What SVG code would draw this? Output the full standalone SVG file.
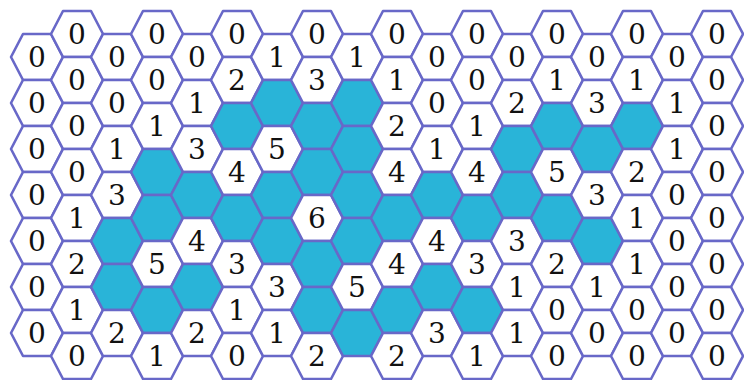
<svg xmlns="http://www.w3.org/2000/svg" xmlns:xlink="http://www.w3.org/1999/xlink" width="744" height="380" viewBox="0 0 744 380">
<style>
.w{fill:#ffffff;stroke:#6868c8;stroke-width:2.6;stroke-linejoin:round}
.m{fill:#29b4d8;stroke:#6868c8;stroke-width:2.6;stroke-linejoin:round}
text{font-family:"DejaVu Serif","Liberation Serif",serif;font-size:28px;text-anchor:middle;fill:#111}
</style>
<defs><polygon id="hx" points="-26,0 -14,-23 14,-23 26,0 14,23 -14,23"/></defs>
<rect width="744" height="380" fill="#ffffff"/>
<g id="connectors"/>
<g id="c0r0"><use href="#hx" class="w" x="37" y="57"/><text x="37" y="67">0</text></g>
<g id="c0r1"><use href="#hx" class="w" x="37" y="103"/><text x="37" y="113">0</text></g>
<g id="c0r2"><use href="#hx" class="w" x="37" y="149"/><text x="37" y="159">0</text></g>
<g id="c0r3"><use href="#hx" class="w" x="37" y="195"/><text x="37" y="205">0</text></g>
<g id="c0r4"><use href="#hx" class="w" x="37" y="241"/><text x="37" y="251">0</text></g>
<g id="c0r5"><use href="#hx" class="w" x="37" y="287"/><text x="37" y="297">0</text></g>
<g id="c0r6"><use href="#hx" class="w" x="37" y="333"/><text x="37" y="343">0</text></g>
<g id="c1r0"><use href="#hx" class="w" x="77" y="34"/><text x="77" y="44">0</text></g>
<g id="c1r1"><use href="#hx" class="w" x="77" y="80"/><text x="77" y="90">0</text></g>
<g id="c1r2"><use href="#hx" class="w" x="77" y="126"/><text x="77" y="136">0</text></g>
<g id="c1r3"><use href="#hx" class="w" x="77" y="172"/><text x="77" y="182">0</text></g>
<g id="c1r4"><use href="#hx" class="w" x="77" y="218"/><text x="77" y="228">1</text></g>
<g id="c1r5"><use href="#hx" class="w" x="77" y="264"/><text x="77" y="274">2</text></g>
<g id="c1r6"><use href="#hx" class="w" x="77" y="310"/><text x="77" y="320">1</text></g>
<g id="c1r7"><use href="#hx" class="w" x="77" y="356"/><text x="77" y="366">0</text></g>
<g id="c2r0"><use href="#hx" class="w" x="117" y="57"/><text x="117" y="67">0</text></g>
<g id="c2r1"><use href="#hx" class="w" x="117" y="103"/><text x="117" y="113">0</text></g>
<g id="c2r2"><use href="#hx" class="w" x="117" y="149"/><text x="117" y="159">1</text></g>
<g id="c2r3"><use href="#hx" class="w" x="117" y="195"/><text x="117" y="205">3</text></g>
<g id="c2r4"><use href="#hx" class="m" x="117" y="241"/></g>
<g id="c2r5"><use href="#hx" class="m" x="117" y="287"/></g>
<g id="c2r6"><use href="#hx" class="w" x="117" y="333"/><text x="117" y="343">2</text></g>
<g id="c3r0"><use href="#hx" class="w" x="157" y="34"/><text x="157" y="44">0</text></g>
<g id="c3r1"><use href="#hx" class="w" x="157" y="80"/><text x="157" y="90">0</text></g>
<g id="c3r2"><use href="#hx" class="w" x="157" y="126"/><text x="157" y="136">1</text></g>
<g id="c3r3"><use href="#hx" class="m" x="157" y="172"/></g>
<g id="c3r4"><use href="#hx" class="m" x="157" y="218"/></g>
<g id="c3r5"><use href="#hx" class="w" x="157" y="264"/><text x="157" y="274">5</text></g>
<g id="c3r6"><use href="#hx" class="m" x="157" y="310"/></g>
<g id="c3r7"><use href="#hx" class="w" x="157" y="356"/><text x="157" y="366">1</text></g>
<g id="c4r0"><use href="#hx" class="w" x="197" y="57"/><text x="197" y="67">0</text></g>
<g id="c4r1"><use href="#hx" class="w" x="197" y="103"/><text x="197" y="113">1</text></g>
<g id="c4r2"><use href="#hx" class="w" x="197" y="149"/><text x="197" y="159">3</text></g>
<g id="c4r3"><use href="#hx" class="m" x="197" y="195"/></g>
<g id="c4r4"><use href="#hx" class="w" x="197" y="241"/><text x="197" y="251">4</text></g>
<g id="c4r5"><use href="#hx" class="m" x="197" y="287"/></g>
<g id="c4r6"><use href="#hx" class="w" x="197" y="333"/><text x="197" y="343">2</text></g>
<g id="c5r0"><use href="#hx" class="w" x="237" y="34"/><text x="237" y="44">0</text></g>
<g id="c5r1"><use href="#hx" class="w" x="237" y="80"/><text x="237" y="90">2</text></g>
<g id="c5r2"><use href="#hx" class="m" x="237" y="126"/></g>
<g id="c5r3"><use href="#hx" class="w" x="237" y="172"/><text x="237" y="182">4</text></g>
<g id="c5r4"><use href="#hx" class="m" x="237" y="218"/></g>
<g id="c5r5"><use href="#hx" class="w" x="237" y="264"/><text x="237" y="274">3</text></g>
<g id="c5r6"><use href="#hx" class="w" x="237" y="310"/><text x="237" y="320">1</text></g>
<g id="c5r7"><use href="#hx" class="w" x="237" y="356"/><text x="237" y="366">0</text></g>
<g id="c6r0"><use href="#hx" class="w" x="277" y="57"/><text x="277" y="67">1</text></g>
<g id="c6r1"><use href="#hx" class="m" x="277" y="103"/></g>
<g id="c6r2"><use href="#hx" class="w" x="277" y="149"/><text x="277" y="159">5</text></g>
<g id="c6r3"><use href="#hx" class="m" x="277" y="195"/></g>
<g id="c6r4"><use href="#hx" class="m" x="277" y="241"/></g>
<g id="c6r5"><use href="#hx" class="w" x="277" y="287"/><text x="277" y="297">3</text></g>
<g id="c6r6"><use href="#hx" class="w" x="277" y="333"/><text x="277" y="343">1</text></g>
<g id="c7r0"><use href="#hx" class="w" x="317" y="34"/><text x="317" y="44">0</text></g>
<g id="c7r1"><use href="#hx" class="w" x="317" y="80"/><text x="317" y="90">3</text></g>
<g id="c7r2"><use href="#hx" class="m" x="317" y="126"/></g>
<g id="c7r3"><use href="#hx" class="m" x="317" y="172"/></g>
<g id="c7r4"><use href="#hx" class="w" x="317" y="218"/><text x="317" y="228">6</text></g>
<g id="c7r5"><use href="#hx" class="m" x="317" y="264"/></g>
<g id="c7r6"><use href="#hx" class="m" x="317" y="310"/></g>
<g id="c7r7"><use href="#hx" class="w" x="317" y="356"/><text x="317" y="366">2</text></g>
<g id="c8r0"><use href="#hx" class="w" x="357" y="57"/><text x="357" y="67">1</text></g>
<g id="c8r1"><use href="#hx" class="m" x="357" y="103"/></g>
<g id="c8r2"><use href="#hx" class="m" x="357" y="149"/></g>
<g id="c8r3"><use href="#hx" class="m" x="357" y="195"/></g>
<g id="c8r4"><use href="#hx" class="m" x="357" y="241"/></g>
<g id="c8r5"><use href="#hx" class="w" x="357" y="287"/><text x="357" y="297">5</text></g>
<g id="c8r6"><use href="#hx" class="m" x="357" y="333"/></g>
<g id="c9r0"><use href="#hx" class="w" x="397" y="34"/><text x="397" y="44">0</text></g>
<g id="c9r1"><use href="#hx" class="w" x="397" y="80"/><text x="397" y="90">1</text></g>
<g id="c9r2"><use href="#hx" class="w" x="397" y="126"/><text x="397" y="136">2</text></g>
<g id="c9r3"><use href="#hx" class="w" x="397" y="172"/><text x="397" y="182">4</text></g>
<g id="c9r4"><use href="#hx" class="m" x="397" y="218"/></g>
<g id="c9r5"><use href="#hx" class="w" x="397" y="264"/><text x="397" y="274">4</text></g>
<g id="c9r6"><use href="#hx" class="m" x="397" y="310"/></g>
<g id="c9r7"><use href="#hx" class="w" x="397" y="356"/><text x="397" y="366">2</text></g>
<g id="c10r0"><use href="#hx" class="w" x="437" y="57"/><text x="437" y="67">0</text></g>
<g id="c10r1"><use href="#hx" class="w" x="437" y="103"/><text x="437" y="113">0</text></g>
<g id="c10r2"><use href="#hx" class="w" x="437" y="149"/><text x="437" y="159">1</text></g>
<g id="c10r3"><use href="#hx" class="m" x="437" y="195"/></g>
<g id="c10r4"><use href="#hx" class="w" x="437" y="241"/><text x="437" y="251">4</text></g>
<g id="c10r5"><use href="#hx" class="m" x="437" y="287"/></g>
<g id="c10r6"><use href="#hx" class="w" x="437" y="333"/><text x="437" y="343">3</text></g>
<g id="c11r0"><use href="#hx" class="w" x="477" y="34"/><text x="477" y="44">0</text></g>
<g id="c11r1"><use href="#hx" class="w" x="477" y="80"/><text x="477" y="90">0</text></g>
<g id="c11r2"><use href="#hx" class="w" x="477" y="126"/><text x="477" y="136">1</text></g>
<g id="c11r3"><use href="#hx" class="w" x="477" y="172"/><text x="477" y="182">4</text></g>
<g id="c11r4"><use href="#hx" class="m" x="477" y="218"/></g>
<g id="c11r5"><use href="#hx" class="w" x="477" y="264"/><text x="477" y="274">3</text></g>
<g id="c11r6"><use href="#hx" class="m" x="477" y="310"/></g>
<g id="c11r7"><use href="#hx" class="w" x="477" y="356"/><text x="477" y="366">1</text></g>
<g id="c12r0"><use href="#hx" class="w" x="517" y="57"/><text x="517" y="67">0</text></g>
<g id="c12r1"><use href="#hx" class="w" x="517" y="103"/><text x="517" y="113">2</text></g>
<g id="c12r2"><use href="#hx" class="m" x="517" y="149"/></g>
<g id="c12r3"><use href="#hx" class="m" x="517" y="195"/></g>
<g id="c12r4"><use href="#hx" class="w" x="517" y="241"/><text x="517" y="251">3</text></g>
<g id="c12r5"><use href="#hx" class="w" x="517" y="287"/><text x="517" y="297">1</text></g>
<g id="c12r6"><use href="#hx" class="w" x="517" y="333"/><text x="517" y="343">1</text></g>
<g id="c13r0"><use href="#hx" class="w" x="557" y="34"/><text x="557" y="44">0</text></g>
<g id="c13r1"><use href="#hx" class="w" x="557" y="80"/><text x="557" y="90">1</text></g>
<g id="c13r2"><use href="#hx" class="m" x="557" y="126"/></g>
<g id="c13r3"><use href="#hx" class="w" x="557" y="172"/><text x="557" y="182">5</text></g>
<g id="c13r4"><use href="#hx" class="m" x="557" y="218"/></g>
<g id="c13r5"><use href="#hx" class="w" x="557" y="264"/><text x="557" y="274">2</text></g>
<g id="c13r6"><use href="#hx" class="w" x="557" y="310"/><text x="557" y="320">0</text></g>
<g id="c13r7"><use href="#hx" class="w" x="557" y="356"/><text x="557" y="366">0</text></g>
<g id="c14r0"><use href="#hx" class="w" x="597" y="57"/><text x="597" y="67">0</text></g>
<g id="c14r1"><use href="#hx" class="w" x="597" y="103"/><text x="597" y="113">3</text></g>
<g id="c14r2"><use href="#hx" class="m" x="597" y="149"/></g>
<g id="c14r3"><use href="#hx" class="w" x="597" y="195"/><text x="597" y="205">3</text></g>
<g id="c14r4"><use href="#hx" class="m" x="597" y="241"/></g>
<g id="c14r5"><use href="#hx" class="w" x="597" y="287"/><text x="597" y="297">1</text></g>
<g id="c14r6"><use href="#hx" class="w" x="597" y="333"/><text x="597" y="343">0</text></g>
<g id="c15r0"><use href="#hx" class="w" x="637" y="34"/><text x="637" y="44">0</text></g>
<g id="c15r1"><use href="#hx" class="w" x="637" y="80"/><text x="637" y="90">1</text></g>
<g id="c15r2"><use href="#hx" class="m" x="637" y="126"/></g>
<g id="c15r3"><use href="#hx" class="w" x="637" y="172"/><text x="637" y="182">2</text></g>
<g id="c15r4"><use href="#hx" class="w" x="637" y="218"/><text x="637" y="228">1</text></g>
<g id="c15r5"><use href="#hx" class="w" x="637" y="264"/><text x="637" y="274">1</text></g>
<g id="c15r6"><use href="#hx" class="w" x="637" y="310"/><text x="637" y="320">0</text></g>
<g id="c15r7"><use href="#hx" class="w" x="637" y="356"/><text x="637" y="366">0</text></g>
<g id="c16r0"><use href="#hx" class="w" x="677" y="57"/><text x="677" y="67">0</text></g>
<g id="c16r1"><use href="#hx" class="w" x="677" y="103"/><text x="677" y="113">1</text></g>
<g id="c16r2"><use href="#hx" class="w" x="677" y="149"/><text x="677" y="159">1</text></g>
<g id="c16r3"><use href="#hx" class="w" x="677" y="195"/><text x="677" y="205">0</text></g>
<g id="c16r4"><use href="#hx" class="w" x="677" y="241"/><text x="677" y="251">0</text></g>
<g id="c16r5"><use href="#hx" class="w" x="677" y="287"/><text x="677" y="297">0</text></g>
<g id="c16r6"><use href="#hx" class="w" x="677" y="333"/><text x="677" y="343">0</text></g>
<g id="c17r0"><use href="#hx" class="w" x="717" y="34"/><text x="717" y="44">0</text></g>
<g id="c17r1"><use href="#hx" class="w" x="717" y="80"/><text x="717" y="90">0</text></g>
<g id="c17r2"><use href="#hx" class="w" x="717" y="126"/><text x="717" y="136">0</text></g>
<g id="c17r3"><use href="#hx" class="w" x="717" y="172"/><text x="717" y="182">0</text></g>
<g id="c17r4"><use href="#hx" class="w" x="717" y="218"/><text x="717" y="228">0</text></g>
<g id="c17r5"><use href="#hx" class="w" x="717" y="264"/><text x="717" y="274">0</text></g>
<g id="c17r6"><use href="#hx" class="w" x="717" y="310"/><text x="717" y="320">0</text></g>
<g id="c17r7"><use href="#hx" class="w" x="717" y="356"/><text x="717" y="366">0</text></g>
</svg>
